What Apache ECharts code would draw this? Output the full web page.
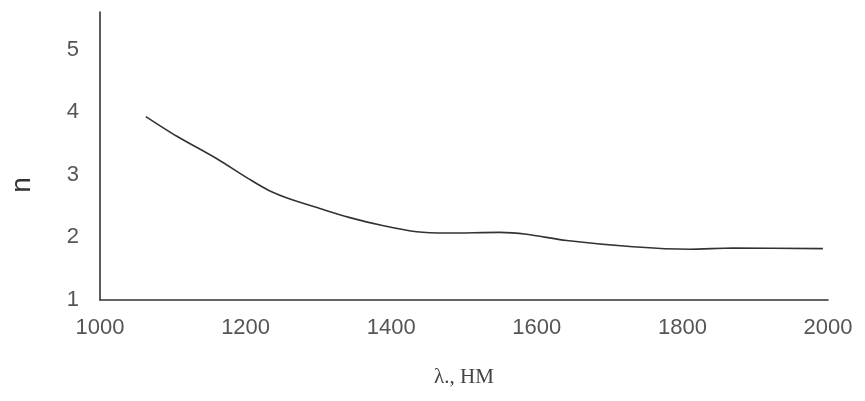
<!DOCTYPE html>
<html>
<head>
<meta charset="utf-8">
<script src="https://cdn.jsdelivr.net/npm/echarts@6/dist/echarts.min.js"></script>
<style>
html,body{margin:0;padding:0;background:#fff;}
#c{width:865px;height:401px;}
</style>
</head>
<body>
<div id="c"></div>
<script>
var wavelength = [1063, 1105, 1160, 1205, 1232, 1264, 1297, 1342, 1388, 1435, 1477, 1549, 1586, 1641, 1732, 1810, 1869, 1993];
var nValues = [3.93, 3.62, 3.26, 2.93, 2.75, 2.60, 2.48, 2.32, 2.19, 2.09, 2.07, 2.08, 2.05, 1.95, 1.85, 1.81, 1.83, 1.82];
var xTicks = [1000, 1200, 1400, 1600, 1800, 2000];
var yTicks = [1, 2, 3, 4, 5];
var xName = 'λ., НМ';
var yName = 'n';

var chart = echarts.init(document.getElementById('c'), null, {renderer: 'canvas'});
var pts = wavelength.map(function (w, i) { return [w, nValues[i]]; });
chart.setOption({
  animation: false,
  backgroundColor: '#ffffff',
  grid: {left: 100, right: 37, top: 12, bottom: 101},
  xAxis: {
    type: 'value', min: 1000, max: 2000, interval: 200,
    axisLine: {lineStyle: {color: '#333', width: 1.6}},
    axisTick: {show: false},
    splitLine: {show: false},
    axisLabel: {
      margin: 17, fontSize: 22, color: '#555', fontFamily: 'Liberation Sans',
      formatter: function (v) { return xTicks.indexOf(v) >= 0 ? String(v) : ''; }
    },
    name: xName, nameLocation: 'middle', nameGap: 67,
    nameTextStyle: {fontFamily: 'Liberation Serif', fontSize: 21, color: '#444'}
  },
  yAxis: {
    type: 'value', min: 1, max: 5.6, interval: 1,
    axisLine: {show: true, lineStyle: {color: '#333', width: 1.6}},
    axisTick: {show: false},
    splitLine: {show: false},
    axisLabel: {
      margin: 21, fontSize: 22, color: '#555', fontFamily: 'Liberation Sans',
      formatter: function (v) { return yTicks.indexOf(v) >= 0 ? String(v) : ''; }
    },
    name: yName, nameLocation: 'middle', nameRotate: 90, nameGap: 64,
    nameTextStyle: {fontFamily: 'Liberation Sans', fontSize: 28, color: '#333', padding: [0, 0, 0, -58]}
  },
  series: [{
    type: 'line', data: pts, smooth: 0.3, showSymbol: false,
    lineStyle: {color: '#333', width: 1.6}
  }]
});
</script>
</body>
</html>
